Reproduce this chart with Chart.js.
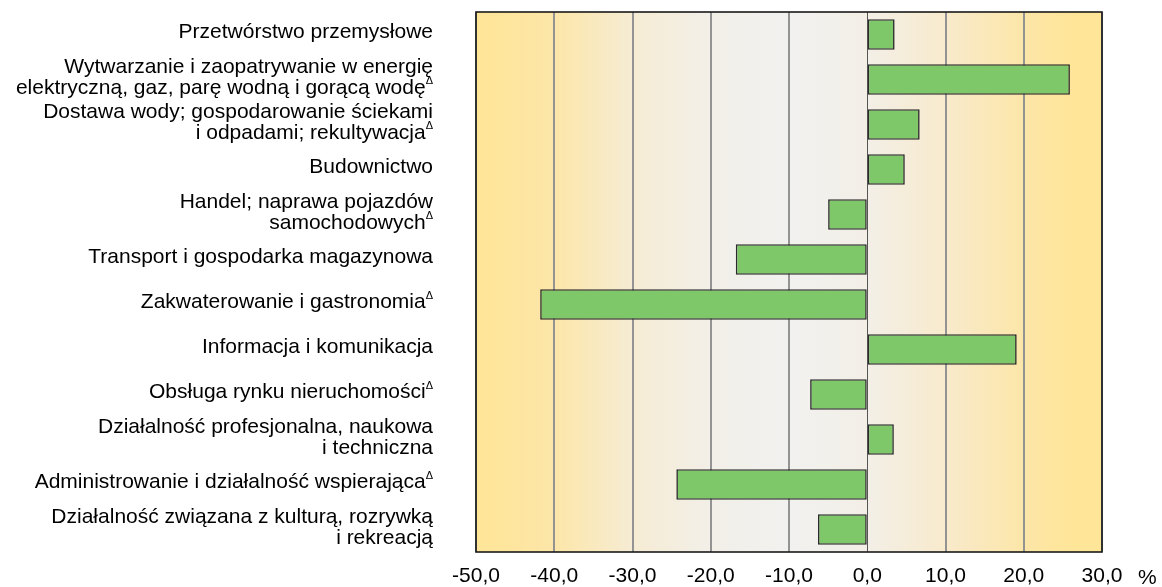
<!DOCTYPE html>
<html>
<head>
<meta charset="utf-8">
<script src="https://cdn.jsdelivr.net/npm/chart.js@4.4.0/dist/chart.umd.min.js"></script>
<style>
body { margin: 0; background: #fff; }
#wrap { width: 1162px; height: 587px; }
</style>
</head>
<body>
<div id="wrap"><canvas id="myChart"></canvas></div>
<script>
'use strict';
// category labels, one array of lines per bar
let categories = [
  ['Przetwórstwo przemysłowe'],
  ['Wytwarzanie i zaopatrywanie w energię', 'elektryczną, gaz, parę wodną i gorącą wodę'],
  ['Dostawa wody; gospodarowanie ściekami', 'i odpadami; rekultywacja'],
  ['Budownictwo'],
  ['Handel; naprawa pojazdów', 'samochodowych'],
  ['Transport i gospodarka magazynowa'],
  ['Zakwaterowanie i gastronomia'],
  ['Informacja i komunikacja'],
  ['Obsługa rynku nieruchomości'],
  ['Działalność profesjonalna, naukowa', 'i techniczna'],
  ['Administrowanie i działalność wspierająca'],
  ['Działalność związana z kulturą, rozrywką', 'i rekreacją']
];
let deltaMark = [false, true, true, false, true, false, true, false, true, false, true, false];
let values = [3.5, 25.9, 6.7, 4.8, -5.0, -16.8, -41.8, 19.1, -7.3, 3.4, -24.4, -6.3];
let tickValues = [-50, -40, -30, -20, -10, 0, 10, 20, 30];
let unitLabel = '%';

let fontName = "'Liberation Sans', Arial, sans-serif";

let backgroundPlugin = {
  id: 'bandBackground',
  beforeDraw(chart) {
    let ctx = chart.ctx;
    let a = chart.chartArea;
    let g = ctx.createLinearGradient(a.left, 0, a.right, 0);
    g.addColorStop(0, '#FFE597');
    g.addColorStop(0.125, '#FCE6A8');
    g.addColorStop(0.25, '#F6ECD4');
    g.addColorStop(0.375, '#F2EFE8');
    g.addColorStop(0.5, '#F1F1EF');
    g.addColorStop(0.625, '#F3EFE7');
    g.addColorStop(0.75, '#F8EACC');
    g.addColorStop(0.875, '#FCE6A8');
    g.addColorStop(0.96, '#FFE597');
    g.addColorStop(1, '#FFE597');
    ctx.save();
    ctx.fillStyle = g;
    ctx.fillRect(a.left, a.top, a.right - a.left, a.bottom - a.top);
    ctx.restore();
  }
};

let labelPlugin = {
  id: 'sideLabels',
  afterDraw(chart) {
    let ctx = chart.ctx;
    let a = chart.chartArea;
    let yScale = chart.scales.y;
    ctx.save();
    // frame
    ctx.strokeStyle = '#1a1a1a';
    ctx.lineWidth = 1.6;
    ctx.strokeRect(a.left, a.top, a.right - a.left, a.bottom - a.top);

    let rightX = 433;
    let lineH = 21;
    ctx.fillStyle = '#000';
    ctx.textBaseline = 'middle';
    for (let i = 0; i < categories.length; i++) {
      let lines = categories[i];
      let cy = yScale.getPixelForValue(i) - 2;
      for (let k = 0; k < lines.length; k++) {
        let ly = cy + (k - (lines.length - 1) / 2) * lineH;
        let endX = rightX;
        if (deltaMark[i] && k === lines.length - 1) {
          ctx.font = '11px ' + fontName;
          let dw = ctx.measureText('\u0394').width;
          endX = rightX - dw;
          ctx.textAlign = 'left';
          ctx.fillText('\u0394', endX, ly - 7);
        }
        ctx.font = '21px ' + fontName;
        ctx.textAlign = 'right';
        ctx.fillText(lines[k], endX, ly);
      }
    }
    ctx.font = '21px ' + fontName;
    ctx.textAlign = 'left';
    ctx.fillText(unitLabel, 1138, a.bottom + 26);
    ctx.restore();
  }
};

let ctx = document.getElementById('myChart').getContext('2d');
let myChart = new Chart(ctx, {
  type: 'bar',
  data: {
    labels: categories.map(l => l.join(' ')),
    datasets: [{
      data: values,
      backgroundColor: '#7EC86A',
      borderColor: '#2b2b2b',
      borderWidth: 1.6,
      borderSkipped: false,
      barPercentage: 0.68,
      categoryPercentage: 1
    }]
  },
  options: {
    indexAxis: 'y',
    responsive: true,
    maintainAspectRatio: false,
    animation: false,
    layout: { padding: { left: 476, top: 12, right: 60, bottom: -14 } },
    plugins: {
      legend: { display: false },
      tooltip: { enabled: false }
    },
    scales: {
      y: { display: false },
      x: {
        min: -50,
        max: 30,
        afterBuildTicks(scale) {
          scale.ticks = tickValues.map(v => ({ value: v }));
        },
        border: { display: false },
        grid: {
          drawTicks: false,
          color: c => (c.tick && c.tick.value === 0) ? '#555555' : '#939393',
          lineWidth: c => (c.tick && c.tick.value === 0) ? 1 : 2
        },
        ticks: {
          padding: 14,
          color: '#000',
          maxRotation: 0,
          font: { family: fontName, size: 21, lineHeight: 1 },
          callback: v => v.toFixed(1).replace('.', ',')
        }
      }
    }
  },
  plugins: [backgroundPlugin, labelPlugin]
});
</script>
</body>
</html>
